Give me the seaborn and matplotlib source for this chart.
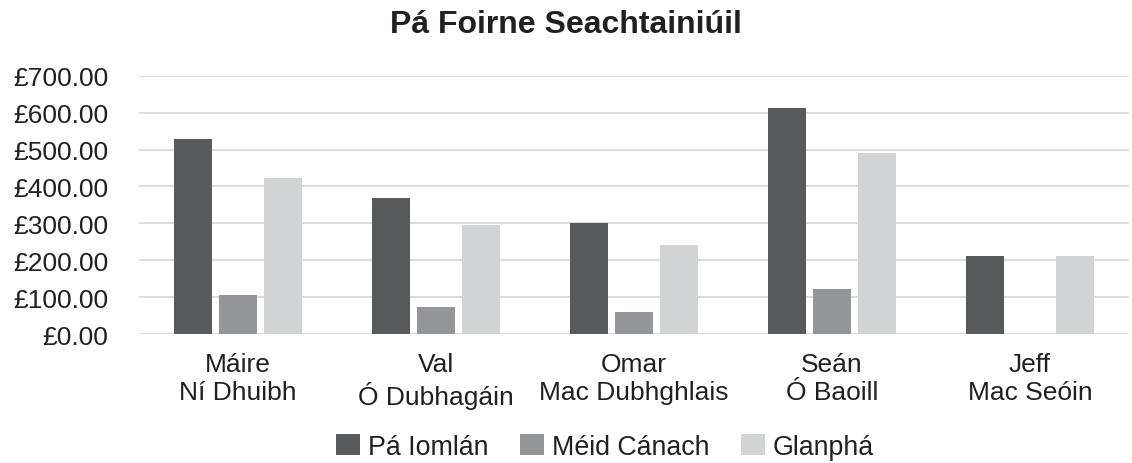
import matplotlib
matplotlib.use("Agg")
import matplotlib.pyplot as plt
import seaborn as sns
import pandas as pd
from matplotlib.ticker import FuncFormatter, MultipleLocator
from matplotlib.patches import Patch

categories = ["Máire\nNí Dhuibh", "Val\nÓ Dubhagáin", "Omar\nMac Dubhghlais", "Seán\nÓ Baoill", "Jeff\nMac Seóin"]
series_names = ["Pá Iomlán", "Méid Cánach", "Glanphá"]
gross_pay = [528, 368, 300, 612, 211]
tax_amount = [105.6, 73.6, 60, 122.4, 0]
net_pay = [422.4, 294.4, 240, 489.6, 211]
title = "Pá Foirne Seachtainiúil"

colors = ["#58595b", "#939598", "#d1d3d4"]

rows = []
for s, vals in zip(series_names, [gross_pay, tax_amount, net_pay]):
    for c, v in zip(categories, vals):
        rows.append({"cat": c, "series": s, "value": v})
df = pd.DataFrame(rows)

sns.set_style("white")
plt.rcParams["font.family"] = ["Liberation Sans", "DejaVu Sans"]
text_color = "#231f20"

fig = plt.figure(figsize=(11.32, 4.64), dpi=100)
ax = fig.add_axes([0.1228, 0.278, 0.8745, 0.5567])

sns.barplot(data=df, x="cat", y="value", hue="series", hue_order=series_names,
            order=categories, palette=colors, width=0.68, gap=0.16,
            saturation=1, ax=ax, legend=False, linewidth=0, edgecolor="none")

ax.set_ylim(0, 700)
ax.yaxis.set_major_locator(MultipleLocator(100))
ax.yaxis.set_major_formatter(FuncFormatter(lambda v, p: f"£{v:.2f}"))
ax.grid(axis="y", color="#d9d9d9", linewidth=1.3)
ax.set_axisbelow(True)
for sp in ax.spines.values():
    sp.set_visible(False)
ax.tick_params(axis="both", length=0, labelsize=19, colors=text_color)
ax.tick_params(axis="x", pad=13)
ax.tick_params(axis="y", pad=22, labelsize=19)
for lbl in ax.get_xticklabels():
    lbl.set_linespacing(1.2)
ax.set_xlabel("")
ax.set_ylabel("")
ax.set_xlim(-0.5, len(categories) - 0.5)

fig.text(0.5, 1 - 25 / 464, title, ha="center", va="center", fontsize=23,
         fontweight="bold", color=text_color)

handles = [Patch(facecolor=c, edgecolor="none") for c in colors]
fig.legend(handles, series_names, loc="center", bbox_to_anchor=(605 / 1132, 1 - 448 / 464),
           ncol=3, frameon=False, fontsize=19.3, handlelength=0.87, handleheight=0.8,
           handletextpad=0.3, columnspacing=1.2, labelcolor=text_color,
           borderaxespad=0, borderpad=0)

fig.savefig("out.png", dpi=100)
